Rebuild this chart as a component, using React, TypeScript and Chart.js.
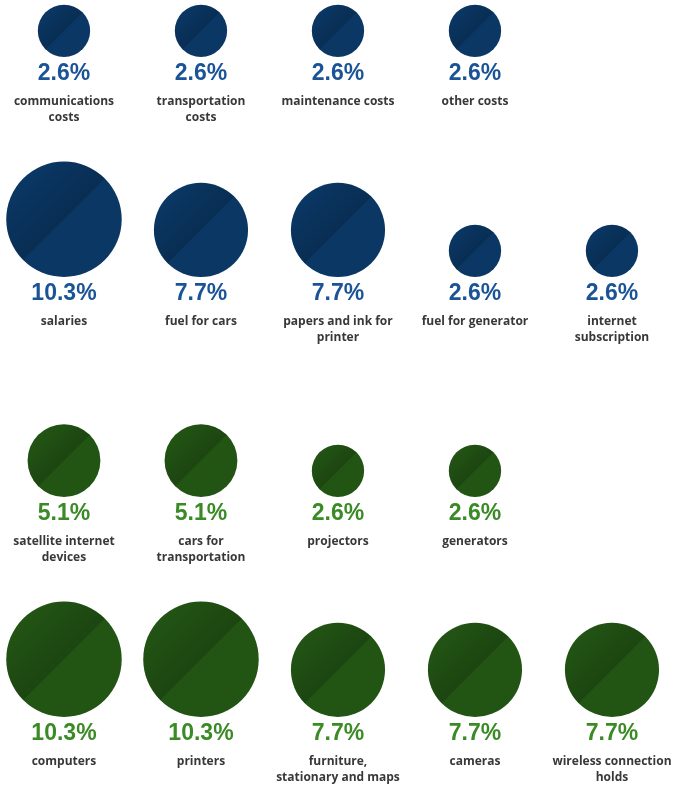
import React, { useEffect, useRef } from "react";
import { Chart, registerables } from "chart.js";

Chart.register(...registerables);

// ---- data ----
const blueRow1Labels = [["communications", "costs"], ["transportation", "costs"], ["maintenance costs"], ["other costs"]];
const blueRow1Values = [2.6, 2.6, 2.6, 2.6];
const blueRow2Labels = [["salaries"], ["fuel for cars"], ["papers and ink for", "printer"], ["fuel for generator"], ["internet", "subscription"]];
const blueRow2Values = [10.3, 7.7, 7.7, 2.6, 2.6];
const greenRow1Labels = [["satellite internet", "devices"], ["cars for", "transportation"], ["projectors"], ["generators"]];
const greenRow1Values = [5.1, 5.1, 2.6, 2.6];
const greenRow2Labels = [["computers"], ["printers"], ["furniture,", "stationary and maps"], ["cameras"], ["wireless connection", "holds"]];
const greenRow2Values = [10.3, 10.3, 7.7, 7.7, 7.7];

const BLUE = "#0a3764";
const BLUE_TEXT = "#1a5396";
const GREEN = "#225414";
const GREEN_TEXT = "#3a8a26";

function rowPoints(row: number, values: number[], labels: string[][]) {
  return values.map((v, i) => ({ x: i, y: row, v, lines: labels[i] }));
}

const bubbleRadius = (v: number) => 15.5 + 4.1 * v;

const alignPlugin = {
  id: "bottomAlign",
  afterDatasetsUpdate(chart: any) {
    chart.data.datasets.forEach((_: any, di: number) => {
      const meta = chart.getDatasetMeta(di);
      meta.data.forEach((el: any) => {
        el.y = el.y - el.options.radius;
      });
    });
  },
  afterDatasetsDraw(chart: any) {
    const ctx = chart.ctx;
    chart.data.datasets.forEach((ds: any, di: number) => {
      const meta = chart.getDatasetMeta(di);
      meta.data.forEach((el: any, i: number) => {
        const r = el.options.radius;
        const cx = el.x;
        const cy = el.y;
        const raw = ds.data[i];
        // soft shading of upper-left half
        ctx.save();
        ctx.beginPath();
        ctx.arc(cx, cy, r, Math.PI * 0.75, Math.PI * 1.75, false);
        ctx.closePath();
        ctx.clip();
        const d = r * 0.7071;
        const g = ctx.createLinearGradient(cx, cy, cx - d, cy - d);
        g.addColorStop(0, "rgba(0,0,0,0.17)");
        g.addColorStop(0.5, "rgba(0,0,0,0.09)");
        g.addColorStop(1, "rgba(0,0,0,0)");
        ctx.fillStyle = g;
        ctx.fillRect(cx - r, cy - r, 2 * r, 2 * r);
        ctx.restore();
        // texts
        const base = cy + r;
        ctx.save();
        ctx.textAlign = "center";
        ctx.textBaseline = "middle";
        ctx.fillStyle = ds.textColor;
        ctx.font = "bold 23px 'Liberation Sans', Arial, sans-serif";
        ctx.fillText(raw.v.toFixed(1) + "%", cx, base + 17);
        ctx.fillStyle = "#383838";
        ctx.font = "bold 12px 'Open Sans', sans-serif";
        raw.lines.forEach((line: string, li: number) => {
          ctx.fillText(line, cx, base + 45 + li * 16);
        });
        ctx.restore();
      });
    });
  },
};

export default function App() {
  const ref = useRef<HTMLCanvasElement | null>(null);
  useEffect(() => {
    if (!ref.current) return;
    const chart = new Chart(ref.current, {
      type: "bubble",
      data: {
        datasets: [
          {
            data: [...rowPoints(0, blueRow1Values, blueRow1Labels), ...rowPoints(1, blueRow2Values, blueRow2Labels)],
            backgroundColor: BLUE,
            textColor: BLUE_TEXT,
            clip: false,
          } as any,
          {
            data: [...rowPoints(2, greenRow1Values, greenRow1Labels), ...rowPoints(3, greenRow2Values, greenRow2Labels)],
            backgroundColor: GREEN,
            textColor: GREEN_TEXT,
            clip: false,
          } as any,
        ],
      },
      options: {
        animation: false,
        responsive: true,
        maintainAspectRatio: false,
        events: [],
        layout: { padding: 0, autoPadding: false },
        elements: {
          point: {
            radius: (c: any) => bubbleRadius(c.raw ? c.raw.v : 0),
            borderWidth: 0,
            hoverRadius: 0,
          },
        },
        scales: {
          x: { type: "linear", min: -0.467, max: 4.555, display: false },
          y: { type: "linear", reverse: true, min: -0.259, max: 3.323, display: false },
        },
        plugins: { legend: { display: false }, tooltip: { enabled: false } },
      } as any,
      plugins: [alignPlugin],
    });
    return () => chart.destroy();
  }, []);
  return (
    <div style={{ position: "fixed", left: 0, top: 0, width: 688, height: 788, background: "#fff" }}>
      <canvas ref={ref} />
    </div>
  );
}
